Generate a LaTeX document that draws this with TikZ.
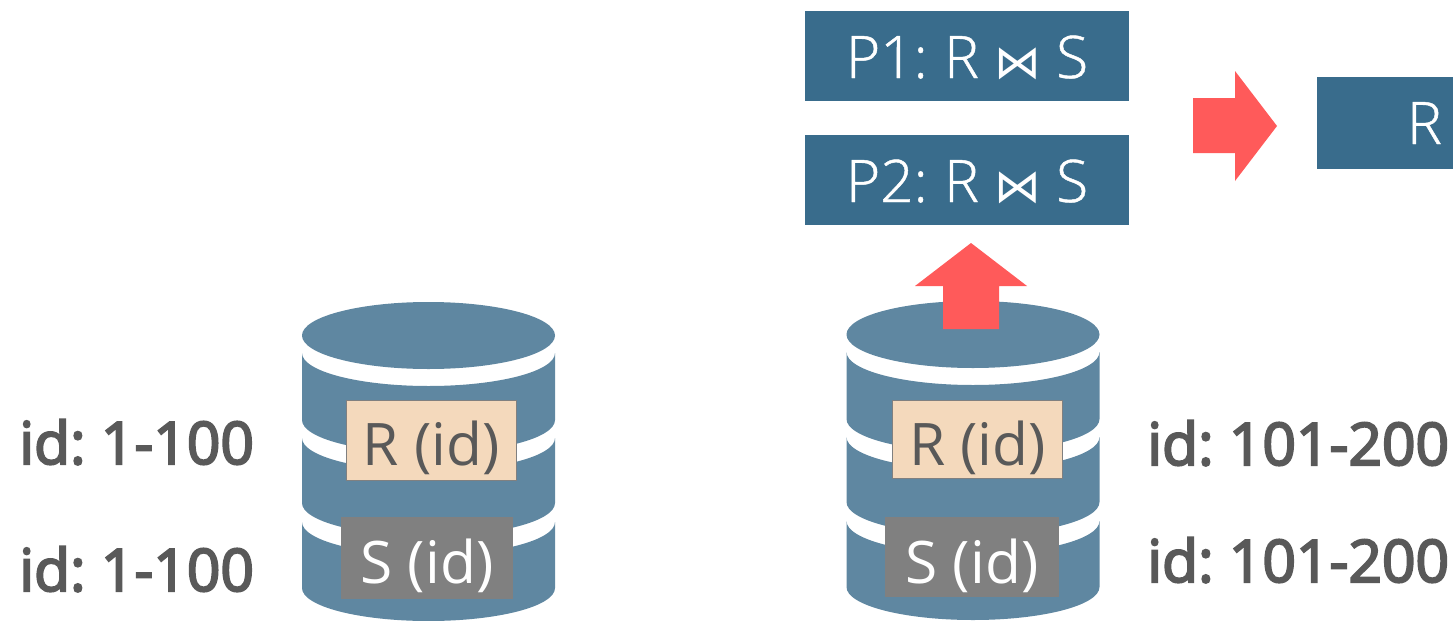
\documentclass[tikz,border=0pt]{standalone}
\usepackage{fontspec}
\setmainfont{Open Sans}
\newfontfamily\semi[FakeBold=3.5]{Open Sans}
\newfontfamily\lite[FakeBold=0.8]{Open Sans Light}
\newfontfamily\symf{DejaVu Sans}
\definecolor{cyl}{HTML}{5F87A1}
\definecolor{plan}{HTML}{396C8C}
\definecolor{redarrow}{HTML}{FF5A5A}
\definecolor{graybox}{HTML}{808080}
\definecolor{peach}{HTML}{F4D9BC}
\definecolor{ink}{HTML}{595959}
\newcommand{\fs}{\fontsize{44}{50}\selectfont}
\newcommand{\jn}{{\symf\fontsize{35}{40}\selectfont\char"22C8}}
\tikzset{
  x=0.75pt,y=0.75pt,
  boxbase/.style={anchor=north west,inner sep=0pt,outer sep=0pt,align=center,font=\fs},
  rbox/.style={boxbase,fill=peach,draw=graybox,line width=1pt,text=ink},
  sbox/.style={boxbase,fill=graybox,text=white},
  planbox/.style={boxbase,fill=plan,text=white,minimum width=243pt,text height=50.25pt,text depth=17.25pt,font=\fs\lite},
  idlabel/.style={anchor=base west,inner sep=0pt,text=ink,font=\fs\semi},
  blockarrow/.style={fill=redarrow},
  pics/dbcyl/.style={code={
    \fill[cyl] (0,0) ellipse [x radius=126.5,y radius=33.5];
    \foreach \t/\b in {17.5/84.5,102.5/167.5,186.5/252.5}{
      \fill[cyl] (-126.5,-\t) -- (-126.5,-\b) arc[start angle=180,end angle=360,x radius=126.5,y radius=33]
        -- (126.5,-\t) arc[start angle=0,end angle=-180,x radius=126.5,y radius=33] -- cycle;
    }
  }}
}
\begin{document}
\begin{tikzpicture}
\useasboundingbox (0,0) rectangle (1453,-621);
\clip (0,0) rectangle (1453,-621);
% databases
\pic (dbl) at (428.5,-335.5) {dbcyl};
\pic (dbr) at (973,-334.5) {dbcyl};
% tables
\node[rbox,minimum width=127.5pt,text height=48.75pt,text depth=11.25pt] (rl) at (346.5,-400.5) {R (id)};
\node[sbox,minimum width=129pt,text height=49.5pt,text depth=12pt] (sl) at (341,-517) {S (id)};
\node[rbox,minimum width=127.5pt,text height=48.75pt,text depth=9.75pt] (rr) at (892.5,-400.5) {R (id)};
\node[sbox,minimum width=130.5pt,text height=49.5pt,text depth=10.5pt] (sr) at (885,-517) {S (id)};
% labels
\node[idlabel] (l1) at (19,-464) {id:\hspace{0.26em}1-100};
\node[idlabel] (l2) at (19,-591) {id:\hspace{0.26em}1-100};
\node[idlabel] (l3) at (1147,-465) {id:\hspace{0.26em}101-200};
\node[idlabel] (l4) at (1147,-582) {id:\hspace{0.26em}101-200};
% plans
\node[planbox] (p1) at (805,-11) {P1:\hspace{0.28em}R \jn\ S};
\node[planbox] (p2) at (805,-135) {P2:\hspace{0.28em}R \jn\ S};
\node[boxbase,fill=plan,text=white,text width=102pt,align=left,text height=50.25pt,text depth=18.75pt,font=\fs\lite] (res) at (1317,-77) {\hspace*{67.5pt}R};
% block arrows
\fill[blockarrow] (943,-329) -- (943,-286) -- (915,-286) -- (971,-243) -- (1027,-286) -- (999,-286) -- (999,-329) -- cycle;
\fill[blockarrow] (1193,-98) -- (1235,-98) -- (1235,-71) -- (1277,-126) -- (1235,-181) -- (1235,-153) -- (1193,-153) -- cycle;
\end{tikzpicture}
\end{document}
